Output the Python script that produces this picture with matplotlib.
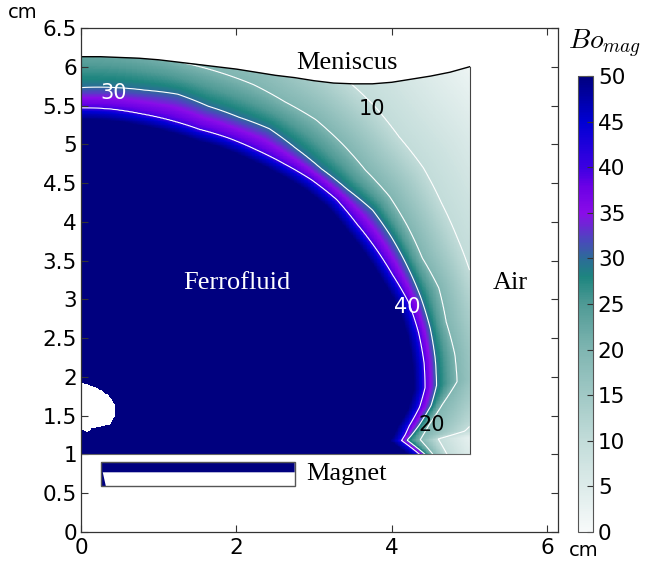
import numpy as np
import matplotlib
matplotlib.use('Agg')
import matplotlib.pyplot as plt
from matplotlib.colors import LinearSegmentedColormap
from matplotlib.path import Path
from matplotlib.patches import PathPatch, Rectangle, Polygon
from matplotlib.ticker import FuncFormatter

plt.rcParams['mathtext.fontset'] = 'cm'

# ---------------- data ----------------
# domain
x_left, x_right, y_bottom = 0.0, 5.0, 1.0
men_x = [0, 0.25, 0.5, 0.75, 1.0, 1.25, 1.5, 1.75, 2.0, 2.25, 2.5, 2.75,
         3.0, 3.25, 3.5, 3.75, 4.0, 4.25, 4.5, 4.75, 5.0]
men_y = [6.13, 6.13, 6.12, 6.11, 6.09, 6.06, 6.03, 6.00, 5.97, 5.93, 5.89, 5.86,
         5.82, 5.79, 5.78, 5.78, 5.80, 5.84, 5.88, 5.93, 6.00]

# contour radii (about the point (0, 1)) for each level, per angle in degrees
angles_deg = [0, 2.5, 3.5, 5, 8, 11, 15, 20, 25, 30, 35, 40, 45, 50, 55, 60,
              65, 70, 75, 80, 85, 90]
r_lvl40 = [4.36, 4.13, 4.18, 4.24, 4.40, 4.51, 4.57, 4.62, 4.65, 4.63, 4.63,
           4.63, 4.65, 4.62, 4.57, 4.53, 4.50, 4.46, 4.46, 4.46, 4.47, 4.47]
r_lvl30 = [4.43, 4.20, 4.27, 4.37, 4.55, 4.66, 4.72, 4.78, 4.82, 4.85, 4.88,
           4.90, 4.84, 4.81, 4.82, 4.85, 4.80, 4.78, 4.81, 4.77, 4.75, 4.73]
r_lvl20 = [4.53, 4.37, 4.42, 4.50, 4.70, 4.93, 4.98, 5.00, 5.08, 5.07, 5.13,
           5.18, 5.18, 5.23, 5.27, 5.25, 5.26, 5.24, 5.22, 5.25, 5.28, 5.30]
r_lvl10 = [4.71, 4.60, 4.95, 5.10, 5.30, 5.40, 5.45, 5.50, 5.53, 5.59, 5.66,
           5.75, 5.79, 5.87, 5.92, 6.00, 6.10, 6.20, 6.30, 6.40, 6.50, 6.50]
r_lvl0 = [5.30, 5.20, 5.60, 6.30, 6.90, 7.00, 7.05, 7.10, 7.13, 7.19, 7.26,
          7.35, 7.39, 7.47, 7.52, 7.60, 7.70, 7.80, 7.90, 8.00, 8.10, 8.10]
band45, band50 = 0.05, 0.15

# saturated (above scale) blob near the magnet axis
blob_x = [-0.1, 0.0, 0.18, 0.35, 0.44, 0.43, 0.37, 0.14, 0.09, 0.0, -0.1]
blob_y = [1.93, 1.93, 1.87, 1.77, 1.64, 1.48, 1.38, 1.34, 1.29, 1.32, 1.32]

# magnet
mag_x0, mag_x1, mag_y0, mag_y1 = 0.26, 2.75, 0.59, 0.90
mag_fill_x = [0.26, 2.75, 2.75, 0.28, 0.32, 0.26]
mag_fill_y = [0.90, 0.90, 0.77, 0.77, 0.59, 0.59]

cbar_ticks = [0, 5, 10, 15, 20, 25, 30, 35, 40, 45, 50]
x_ticks = [0, 2, 4, 6]
y_ticks = [0, 0.5, 1, 1.5, 2, 2.5, 3, 3.5, 4, 4.5, 5, 5.5, 6, 6.5]

cmap_vals = [0, 10, 20, 25, 28, 30, 32, 35, 38, 40, 45, 50]
cmap_cols = ['#f7fafa', '#c2dcd9', '#7fb5b1', '#4f9a95', '#1d857f', '#2c6c98',
             '#4a48bc', '#8a0ce8', '#6a00e6', '#3c00e2', '#0000d4', '#00007f']

# ---------------- build field ----------------
cmap = LinearSegmentedColormap.from_list(
    'bo', [(v / 50.0, c) for v, c in zip(cmap_vals, cmap_cols)])

xs = np.linspace(x_left, x_right, 501)
ys = np.linspace(y_bottom, 6.2, 521)
X, Y = np.meshgrid(xs, ys)
r = np.hypot(X - x_left, Y - y_bottom)
th = np.degrees(np.arctan2(Y - y_bottom, X - x_left))

r40 = np.interp(th, angles_deg, r_lvl40)
radii = [r40 - band50, r40 - band45, r40,
         np.interp(th, angles_deg, r_lvl30),
         np.interp(th, angles_deg, r_lvl20),
         np.interp(th, angles_deg, r_lvl10),
         np.interp(th, angles_deg, r_lvl0)]
vals = [50, 45, 40, 30, 20, 10, 0]
Z = np.zeros_like(r)
Z = np.where(r <= radii[0], 50.0, Z)
for i in range(6):
    seg = (r > radii[i]) & (r <= radii[i + 1])
    t = (r - radii[i]) / (radii[i + 1] - radii[i])
    Z = np.where(seg, vals[i] + t * (vals[i + 1] - vals[i]), Z)

blob = Path(np.column_stack([blob_x, blob_y]))
inside = blob.contains_points(np.column_stack([X.ravel(), Y.ravel()])).reshape(X.shape)
Z[inside] = 60.0
Zm = np.ma.masked_greater(Z, 50.0)

# ---------------- figure ----------------
fig = plt.figure(figsize=(6.63, 5.62), dpi=100)
ax = fig.add_axes([81 / 663, 30 / 562, 476.7 / 663, 504 / 562])

pm = ax.pcolormesh(X, Y, Zm, cmap=cmap, vmin=0, vmax=50, shading='nearest',
                   rasterized=True)
cl = ax.contour(X, Y, Z, levels=[10, 20, 30, 40], colors='white', linewidths=0.8)

dom_verts = [(x_left, y_bottom), (x_right, y_bottom)] + \
    [(mx, my) for mx, my in zip(men_x[::-1], men_y[::-1])] + [(x_left, y_bottom)]
clip = PathPatch(Path(dom_verts), transform=ax.transData, facecolor='none',
                 edgecolor='none')
ax.add_patch(clip)
pm.set_clip_path(clip)
cl.set_clip_path(clip)

ax.plot(men_x, men_y, color='black', lw=1.0)
ax.plot([x_right, x_right], [y_bottom, men_y[-1]], color='#444444', lw=0.8)
ax.plot([x_left, x_right], [y_bottom, y_bottom], color='#666666', lw=0.8)

# contour labels
ax.text(0.42, 5.66, '30', color='white', fontsize=15, ha='center', va='center')
ax.text(3.75, 5.46, '10', color='black', fontsize=15, ha='center', va='center')
ax.text(4.2, 2.9, '40', color='white', fontsize=15, ha='center', va='center')
ax.text(4.52, 1.38, '20', color='black', fontsize=15, ha='center', va='center')

# region labels
serif = 'Liberation Serif'
ax.text(3.42, 6.05, 'Meniscus', family=serif, fontsize=19, ha='center', va='center')
ax.text(2.0, 3.21, 'Ferrofluid', family=serif, fontsize=19, color='white',
        ha='center', va='center')
ax.text(5.53, 3.21, 'Air', family=serif, fontsize=19, ha='center', va='center')
ax.text(3.42, 0.75, 'Magnet', family=serif, fontsize=19, ha='center', va='center')

# magnet
ax.add_patch(Polygon(np.column_stack([mag_fill_x, mag_fill_y]), closed=True,
                     facecolor='#00007f', edgecolor='none'))
ax.add_patch(Rectangle((mag_x0, mag_y0), mag_x1 - mag_x0, mag_y1 - mag_y0,
                       facecolor='none', edgecolor='#555555', lw=1.0))

ax.set_xlim(0, 6.135)
ax.set_ylim(0, 6.5)
ax.set_aspect('auto')
ax.set_xticks(x_ticks)
ax.set_yticks(y_ticks)
fmt = FuncFormatter(lambda v, p: '%g' % v)
ax.xaxis.set_major_formatter(fmt)
ax.yaxis.set_major_formatter(fmt)
ax.tick_params(direction='in', top=True, right=True, length=5, labelsize=15.5,
               color='#333333')
ax.tick_params(axis='x', pad=4)
ax.tick_params(axis='y', pad=3)
for s in ax.spines.values():
    s.set_color('#333333')
    s.set_linewidth(0.9)

# colorbar
cax = fig.add_axes([578 / 663, 30 / 562, 15 / 663, 456 / 562])
cb = fig.colorbar(pm, cax=cax, ticks=cbar_ticks)
cb.ax.tick_params(direction='in', labelsize=15.5, length=4, color='#333333')
cb.outline.set_edgecolor('#555555')
cb.outline.set_linewidth(0.8)

fig.text(605 / 663, 1 - 44 / 562, r'$Bo_{mag}$', fontsize=20, ha='center', va='center')
fig.text(23 / 663, 1 - 12 / 562, 'cm', fontsize=14, ha='center', va='center')
fig.text(584 / 663, 1 - 551 / 562, 'cm', fontsize=14, ha='center', va='center')

fig.savefig('out.png', dpi=100)
